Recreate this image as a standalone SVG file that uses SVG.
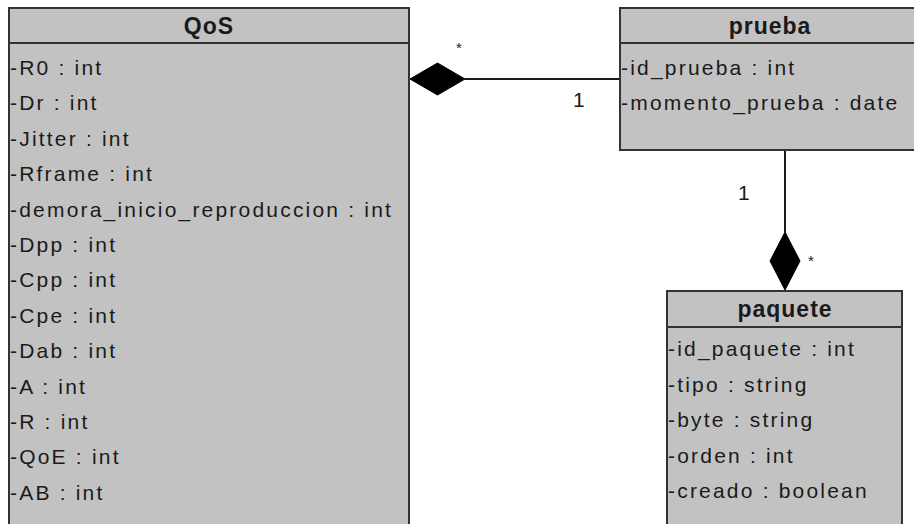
<svg xmlns="http://www.w3.org/2000/svg" width="914" height="524" viewBox="0 0 914 524">
  <style>
    .box { fill: #c2c2c2; stroke: #333333; stroke-width: 2; }
    .div { stroke: #333333; stroke-width: 2; }
    .title { font-family: "Liberation Sans", Arial, sans-serif; font-weight: bold; font-size: 23px; letter-spacing: 1px; fill: #1a1a1a; text-anchor: middle; }
    .attr { font-family: "Liberation Sans", Arial, sans-serif; font-size: 21px; letter-spacing: 2.2px; fill: #1a1a1a; }
    .lbl { font-family: "Liberation Sans", Arial, sans-serif; font-size: 21px; fill: #1a1a1a; }
    .star { font-family: "Liberation Sans", Arial, sans-serif; font-size: 15px; fill: #1a1a1a; }
    .edge { stroke: #1a1a1a; stroke-width: 2; fill: none; }
    .diamond { fill: #000000; stroke: #000000; stroke-width: 1; }
  </style>
  <rect width="914" height="524" fill="#ffffff"/>

  <!-- connectors: composition associations -->
  <g id="connectors">
    <line class="edge" x1="465" y1="79" x2="620" y2="79"/>
    <polygon class="diamond" points="410,79 437.5,63 465,79 437.5,95"/>
    <text class="star" x="456" y="53">*</text>
    <text class="lbl" x="573" y="107">1</text>

    <line class="edge" x1="785" y1="150" x2="785" y2="232"/>
    <polygon class="diamond" points="785,232 800,261 785,290 770,261"/>
    <text class="lbl" x="738" y="200">1</text>
    <text class="star" x="808" y="266">*</text>
  </g>

  <!-- class QoS -->
  <g id="QoS">
    <rect class="box" x="9" y="8" width="400" height="530"/>
    <line class="div" x1="9" y1="43" x2="409" y2="43"/>
    <text class="title" x="209" y="34">QoS</text>
    <text class="attr" x="10" y="75">-R0 : int</text>
    <text class="attr" x="10" y="110.4">-Dr : int</text>
    <text class="attr" x="10" y="145.8">-Jitter : int</text>
    <text class="attr" x="10" y="181.2">-Rframe : int</text>
    <text class="attr" x="10" y="216.6">-demora_inicio_reproduccion : int</text>
    <text class="attr" x="10" y="252">-Dpp : int</text>
    <text class="attr" x="10" y="287.4">-Cpp : int</text>
    <text class="attr" x="10" y="322.8">-Cpe : int</text>
    <text class="attr" x="10" y="358.2">-Dab : int</text>
    <text class="attr" x="10" y="393.6">-A : int</text>
    <text class="attr" x="10" y="429">-R : int</text>
    <text class="attr" x="10" y="464.4">-QoE : int</text>
    <text class="attr" x="10" y="499.8">-AB : int</text>
  </g>

  <!-- class prueba -->
  <g id="prueba">
    <rect class="box" x="620" y="8" width="310" height="142"/>
    <line class="div" x1="620" y1="43" x2="930" y2="43"/>
    <text class="title" x="770" y="34">prueba</text>
    <text class="attr" x="621" y="75">-id_prueba : int</text>
    <text class="attr" x="621" y="110.4">-momento_prueba : date</text>
  </g>

  <!-- class paquete -->
  <g id="paquete">
    <rect class="box" x="667" y="291" width="235" height="250"/>
    <line class="div" x1="667" y1="327" x2="902" y2="327"/>
    <text class="title" x="785" y="317">paquete</text>
    <text class="attr" x="668" y="356">-id_paquete : int</text>
    <text class="attr" x="668" y="391.5">-tipo : string</text>
    <text class="attr" x="668" y="427">-byte : string</text>
    <text class="attr" x="668" y="462.5">-orden : int</text>
    <text class="attr" x="668" y="498">-creado : boolean</text>
  </g>
</svg>
